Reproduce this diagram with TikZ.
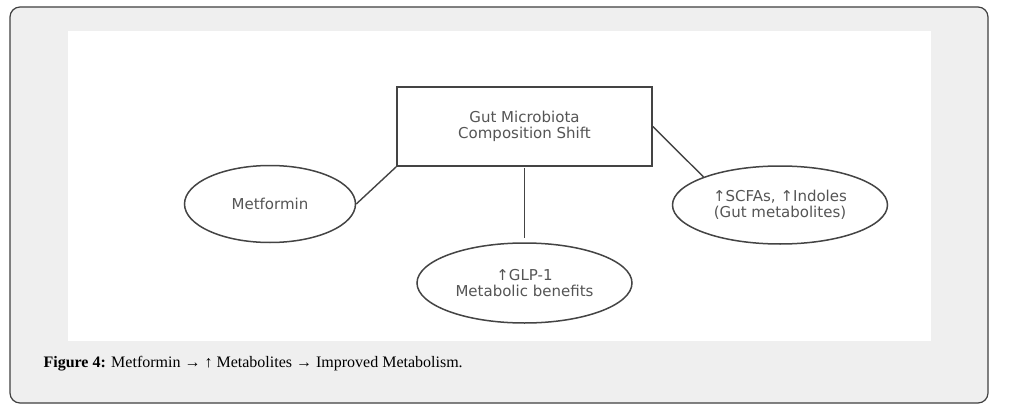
\documentclass[tikz,border=0pt]{standalone}
\usepackage{fontspec}
\setmainfont{Liberation Serif}
\newfontfamily\dejavu{DejaVu Sans}
\usepackage{xcolor}
\usepackage{tikz}
\usetikzlibrary{shapes.geometric}
\definecolor{panelgray}{HTML}{EFEFEF}
\definecolor{inkgray}{HTML}{555555}
\definecolor{linegray}{HTML}{444444}
\tikzset{blob/.style={ellipse, draw=linegray, line width=1.5pt, fill=white, text=inkgray, font=\dejavu\fontsize{15}{16.5}\selectfont, align=center, inner sep=0pt},
box/.style={rectangle, draw=linegray, line width=1.6pt, text=inkgray, font=\dejavu\fontsize{15}{16.5}\selectfont, align=center, minimum width=255pt, minimum height=79pt, inner sep=0pt},
%plain connector between two nodes
link/.style={draw=linegray, line width=1.4pt}}

\begin{document}
\begin{tikzpicture}[x=1pt, y=-1pt]
\useasboundingbox (0,0) rectangle (1009,412);
%\draw[step=50,color=gray] (0,0) grid (1009,412);
\draw[fill=panelgray, draw=black!75, line width=1.2pt, rounded corners=10pt] (10,7) rectangle (988,403);
\fill[white] (68,31) rectangle (931,341);
\node[box] (shift) at (524.5,126.5) {Gut Microbiota\\Composition Shift};
\node[blob, minimum width=171pt, minimum height=77pt] (met) at (270,204) {Metformin};
\node[blob, minimum width=215pt, minimum height=80pt] (glp) at (524.5,283) {↑GLP-1\\Metabolic benefits};
\node[blob, minimum width=215pt, minimum height=78pt] (scfa) at (780,205) {↑SCFAs, ↑Indoles\\(Gut metabolites)};
\draw[link] (shift.south west) -- (met.east);
\draw[link, shorten <=1pt, shorten >=4pt] (shift.south) -- (glp.north);
\draw[link] (shift.east) -- (scfa.north west);
\node[anchor=base west, font=\fontsize{16}{18}\selectfont] (cap) at (40,367) {\textbf{Figure 4:} Metformin → ↑ Metabolites → Improved Metabolism.};
\end{tikzpicture}
\end{document}
